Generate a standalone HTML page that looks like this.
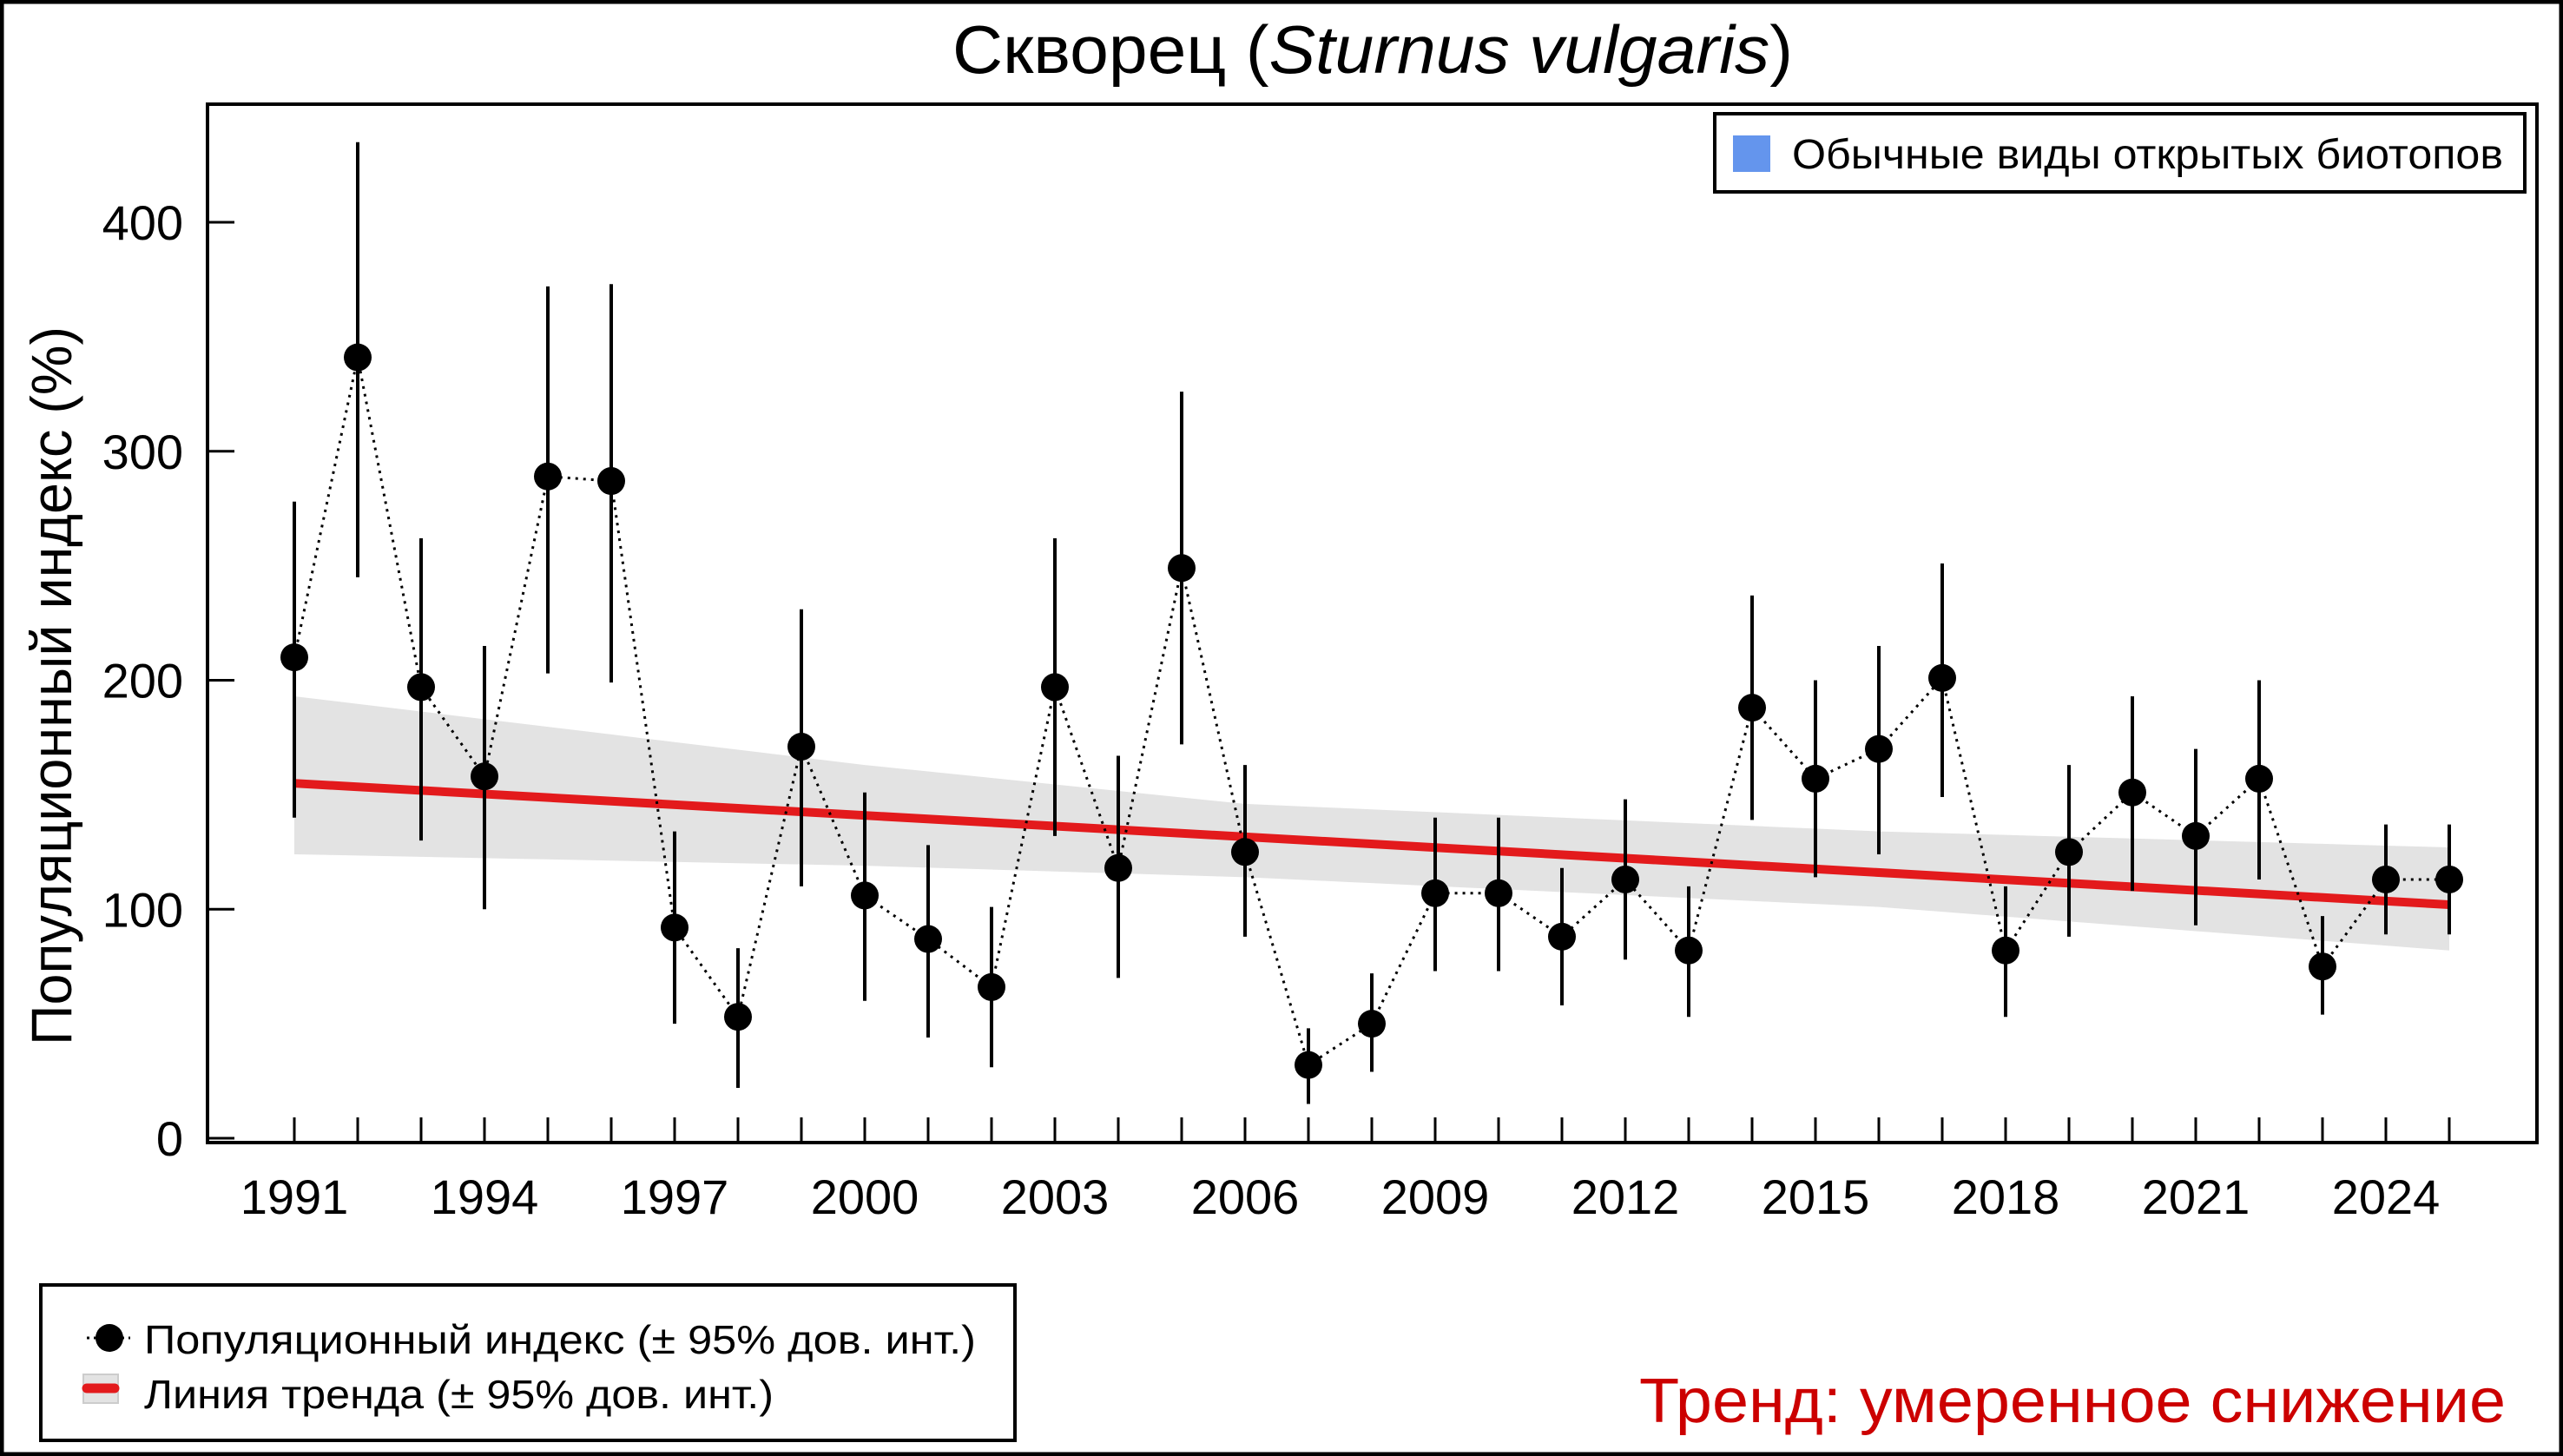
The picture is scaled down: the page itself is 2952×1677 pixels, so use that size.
<!DOCTYPE html>
<html><head><meta charset="utf-8">
<style>html,body{margin:0;padding:0;background:#fff}svg{display:block}</style>
</head><body>
<svg id="s" xmlns="http://www.w3.org/2000/svg" width="2952" height="1677" viewBox="0 0 2952 1677" font-family="Liberation Sans, sans-serif">
<rect x="2" y="2" width="2948" height="1673" fill="#fff" stroke="#000" stroke-width="5"/>
<text x="1581" y="84" font-size="78" text-anchor="middle" textLength="968" lengthAdjust="spacingAndGlyphs">Скворец (<tspan font-style="italic">Sturnus vulgaris</tspan>)</text>
<g id="plot"></g>
<rect x="239" y="120" width="2683" height="1196" fill="none" stroke="#000" stroke-width="4"/>
<text transform="translate(82,790) rotate(-90)" font-size="66" text-anchor="middle" textLength="828" lengthAdjust="spacingAndGlyphs">Популяционный индекс (%)</text>
<rect x="1975" y="131" width="933" height="90" fill="#fff" stroke="#000" stroke-width="4"/>
<rect x="1996" y="156" width="43" height="42" fill="#6495ED"/>
<text x="2064" y="194" font-size="48" textLength="819" lengthAdjust="spacingAndGlyphs">Обычные виды открытых биотопов</text>
<rect x="47" y="1480" width="1122" height="179" fill="#fff" stroke="#000" stroke-width="4"/>
<line x1="100" y1="1541" x2="150" y2="1541" stroke="#000" stroke-width="3" stroke-dasharray="3,5"/>
<circle cx="126" cy="1541" r="16" fill="#000"/>
<text x="166" y="1559" font-size="46" textLength="958" lengthAdjust="spacingAndGlyphs">Популяционный индекс (± 95% дов. инт.)</text>
<rect x="96" y="1583" width="40" height="33" fill="#e3e3e3" stroke="#ccc" stroke-width="2"/>
<line x1="100" y1="1599" x2="132" y2="1599" stroke="#e31a1c" stroke-width="11" stroke-linecap="round"/>
<text x="166" y="1622" font-size="46" textLength="725" lengthAdjust="spacingAndGlyphs">Линия тренда (± 95% дов. инт.)</text>
<text x="2886" y="1638" font-size="72" fill="#cc0000" text-anchor="end" textLength="998" lengthAdjust="spacingAndGlyphs">Тренд: умеренное снижение</text>
</svg>
<script>
var NS="http://www.w3.org/2000/svg",g=document.getElementById('plot');
function X(y){return 339+(y-1991)*73;}function Y(v){return 1311-v*2.6375;}
function el(t,a,p){var e=document.createElementNS(NS,t);for(var k in a)e.setAttribute(k,a[k]);(p||g).appendChild(e);return e;}
var d=[[210,140,278],[341,245,435],[197,130,262],[158,100,215],[289,203,372],[287,199,373],[92,50,134],[53,22,83],[171,110,231],[106,60,151],[87,44,128],[66,31,101],[197,132,262],[118,70,167],[249,172,326],[125,88,163],[32,15,48],[50,29,72],[107,73,140],[107,73,140],[88,58,118],[113,78,148],[82,53,110],[188,139,237],[157,114,200],[170,124,215],[201,149,251],[82,53,110],[125,88,163],[151,108,193],[132,93,170],[157,113,200],[75,54,97],[113,89,137],[113,89,137]];
function interp(pts,y){for(var i=0;i<pts.length-1;i++){if(y<=pts[i+1][0]){var t=(y-pts[i][0])/(pts[i+1][0]-pts[i][0]);return pts[i][1]+t*(pts[i+1][1]-pts[i][1]);}}return pts[pts.length-1][1];}
var up=[[1991,193],[2000,163],[2006,146],[2016,134],[2025,127]],lo=[[1991,124],[2000,119],[2006,114],[2016,101],[2025,82]];
var p="",q=[];for(var y=1991;y<=2025;y+=0.5){p+=(p?"L":"M")+X(y)+","+Y(interp(up,y));q.unshift(X(y)+","+Y(interp(lo,y)));}
el('path',{d:p+"L"+q.join("L")+"Z",fill:"#e3e3e3"});
el('line',{x1:X(1991),y1:Y(155),x2:X(2025),y2:Y(102),stroke:"#e31a1c","stroke-width":10});
for(var i=0;i<=34;i++)el('line',{x1:X(1991+i),y1:1287,x2:X(1991+i),y2:1316,stroke:"#000","stroke-width":3});
for(var yr=1991;yr<=2025;yr+=3){var t=el('text',{x:X(yr),y:1398,"font-size":"56","text-anchor":"middle"});t.textContent=yr;}
[0,100,200,300,400].forEach(function(v){el('line',{x1:239,y1:Y(v),x2:270,y2:Y(v),stroke:"#000","stroke-width":3});var t=el('text',{x:211,y:Y(v)+20,"font-size":"56","text-anchor":"end"});t.textContent=v;});
var pts=d.map(function(r,i){return X(1991+i)+","+Y(r[0]);}).join(" ");
el('polyline',{points:pts,fill:"none",stroke:"#000","stroke-width":3,"stroke-dasharray":"3,6"});
d.forEach(function(r,i){el('line',{x1:X(1991+i),y1:Y(r[1]),x2:X(1991+i),y2:Y(r[2]),stroke:"#000","stroke-width":4});});
d.forEach(function(r,i){el('circle',{cx:X(1991+i),cy:Y(r[0]),r:16,fill:"#000"});});
</script>
</body></html>
